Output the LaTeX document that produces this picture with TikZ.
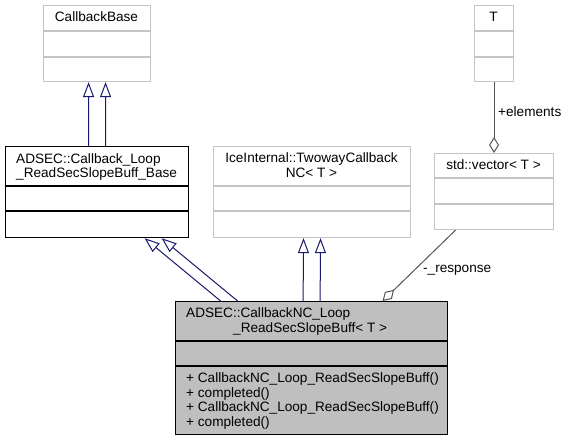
\documentclass[tikz,border=0pt]{standalone}
\usepackage{fontspec}
\setmainfont{Liberation Sans}
\usetikzlibrary{arrows.meta}
\definecolor{boxgray}{HTML}{BFBFBF}
\definecolor{lightedge}{HTML}{C4C4C4}
\definecolor{edgegray}{HTML}{555555}
\definecolor{navyline}{HTML}{191970}
\begin{document}
\begin{tikzpicture}[x=1pt,y=-1pt,font=\fontsize{13.6}{16}\selectfont,
  gbox/.style={draw=lightedge,line width=1.1pt,fill=white,inner sep=0pt,anchor=north west},
  kbox/.style={draw=black,line width=1.2pt,fill=white,inner sep=0pt,anchor=north west},
  mbox/.style={draw=black,line width=1.2pt,fill=boxgray,inner sep=0pt,anchor=north west},
  gdiv/.style={draw=lightedge,line width=1.1pt},
  kdiv/.style={draw=black,line width=1.2pt},
  lbl/.style={inner sep=0pt,anchor=base},
  lblw/.style={inner sep=0pt,anchor=base west},
  inh/.style={draw=navyline,line width=1pt,-{Triangle[open,length=15pt,width=11pt]}},
  agg/.style={draw=edgegray,line width=1pt,-{Diamond[open,length=16pt,width=10pt]}}]
\useasboundingbox (0,0) rectangle (567,441);
\fill[white] (0,0) rectangle (567,441);

% CallbackBase
\node[gbox,minimum width=107pt,minimum height=76pt] (cb) at (43,5) {};
\draw[gdiv] ([yshift=-26pt]cb.north west) -- ([yshift=-26pt]cb.north east);
\draw[gdiv] ([yshift=-52pt]cb.north west) -- ([yshift=-52pt]cb.north east);
\node[lbl] (cbt) at (96.5,22) {CallbackBase};

% T
\node[gbox,minimum width=39pt,minimum height=76pt] (t) at (474,5) {};
\draw[gdiv] ([yshift=-26pt]t.north west) -- ([yshift=-26pt]t.north east);
\draw[gdiv] ([yshift=-52pt]t.north west) -- ([yshift=-52pt]t.north east);
\node[lbl] (tt) at (493.5,22) {T};

% Callback_Loop_ReadSecSlopeBuff_Base
\node[kbox,minimum width=183pt,minimum height=91pt] (base) at (5,146) {};
\draw[kdiv] ([yshift=-40pt]base.north west) -- ([yshift=-40pt]base.north east);
\draw[kdiv] ([yshift=-65pt]base.north west) -- ([yshift=-65pt]base.north east);
\node[lblw] (baset1) at (16,163) {ADSEC::Callback\_Loop};
\node[lblw] (baset2) at (16,177) {\_ReadSecSlopeBuff\_Base};

% IceInternal
\node[gbox,minimum width=197pt,minimum height=91pt] (ice) at (213,146) {};
\draw[gdiv] ([yshift=-40pt]ice.north west) -- ([yshift=-40pt]ice.north east);
\draw[gdiv] ([yshift=-65pt]ice.north west) -- ([yshift=-65pt]ice.north east);
\node[lbl] (icet1) at (311.5,162) {IceInternal::TwowayCallback};
\node[lbl] (icet2) at (311.5,177) {NC< T >};

% std::vector
\node[gbox,minimum width=119pt,minimum height=76pt] (vec) at (434,153) {};
\draw[gdiv] ([yshift=-25pt]vec.north west) -- ([yshift=-25pt]vec.north east);
\draw[gdiv] ([yshift=-51pt]vec.north west) -- ([yshift=-51pt]vec.north east);
\node[lbl] (vect) at (493.5,169) {std::vector< T >};

% main class
\node[mbox,minimum width=272pt,minimum height=133pt] (main) at (175,301) {};
\draw[kdiv] ([yshift=-40pt]main.north west) -- ([yshift=-40pt]main.north east);
\draw[kdiv] ([yshift=-65pt]main.north west) -- ([yshift=-65pt]main.north east);
\node[lblw] (mt1) at (186,317) {ADSEC::CallbackNC\_Loop};
\node[lblw] (mt2) at (233,332) {\_ReadSecSlopeBuff< T >};
\node[lblw] (mm1) at (186,382) {+ CallbackNC\_Loop\_ReadSecSlopeBuff()};
\node[lblw] (mm2) at (186,397) {+ completed()};
\node[lblw] (mm3) at (186,411) {+ CallbackNC\_Loop\_ReadSecSlopeBuff()};
\node[lblw] (mm4) at (186,426) {+ completed()};

% inheritance
\draw[inh] ([xshift=-8.5pt]base.north) -- ([xshift=-8.5pt]cb.south);
\draw[inh] ([xshift=8.5pt]base.north) -- ([xshift=8.5pt]cb.south);
\draw[inh] ([xshift=-91pt]main.north) -- ([xshift=47.5pt]base.south);
\draw[inh] ([xshift=-74pt]main.north) -- ([xshift=64.5pt]base.south);
\draw[inh] ([xshift=-8.5pt]main.north) -- ([xshift=-8.5pt]ice.south);
\draw[inh] ([xshift=8.5pt]main.north) -- ([xshift=8.5pt]ice.south);

% aggregation
\draw[agg] (t.south) -- (vec.north);
\node[lblw] (elab) at (498,117) {+elements};
\draw[agg] ([xshift=-38.5pt]vec.south) -- ([xshift=71pt]main.north);
\node[lblw] (rlab) at (423,272) {-\_response};
\end{tikzpicture}
\end{document}
